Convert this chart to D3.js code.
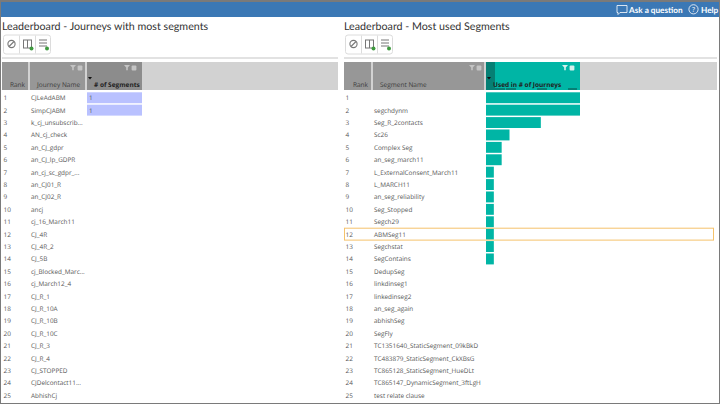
<!DOCTYPE html>
<html>
<head>
<meta charset="utf-8">
<style>
body { margin: 0; background: #fff; overflow: hidden; }
text { font-family: "Open Sans", sans-serif; text-rendering: geometricPrecision; }
text.wide { font-family: Lato, "Open Sans", sans-serif; }
</style>
<script src="https://cdn.jsdelivr.net/npm/d3@7"></script>
</head>
<body>
<div id="chart"></div>
<script>
// data
var ranks = d3.range(1, 26);
var journeyNames = ["CJLeAdABM", "SimpCJABM", "k_cj_unsubscrib...", "AN_cj_check", "an_CJ_gdpr", "an_CJ_lp_GDPR",
    "an_cj_sc_gdpr_...", "an_CJ01_R", "an_CJ02_R", "ancj", "cj_16_March11", "CJ_4R", "CJ_4R_2", "CJ_5B",
    "cj_Blocked_Marc...", "cj_March12_4", "CJ_R_1", "CJ_R_10A", "CJ_R_10B", "CJ_R_10C", "CJ_R_3", "CJ_R_4",
    "CJ_STOPPED", "CJDelcontact11...", "AbhishCj"];
var journeySegments = [1, 1];
var segmentNames = ["", "segchdynm", "Seg_R_2contacts", "Sc26", "Complex Seg", "an_seg_march11",
    "L_ExternalConsent_March11", "L_MARCH11", "an_seg_reliability", "Seg_Stopped", "Segch29", "ABMSeg11",
    "Segchstat", "SegContains", "DedupSeg", "linkdinseg1", "linkedinseg2", "an_seg_again", "abhishSeg", "SegFly",
    "TC1351640_StaticSegment_09kBkD", "TC483879_StaticSegment_CkXBsG", "TC865128_StaticSegment_HueDLt",
    "TC865147_DynamicSegment_3ftLgH", "test relate clause"];
var segmentJourneys = [12, 12, 7, 3, 2, 2, 1, 1, 1, 1, 1, 1, 1, 1];
var highlightedRank = 12;

var svgWidth = 720;
var svgHeight = 404;
var svg = d3.select("#chart").append("svg")
    .attr("width", svgWidth)
    .attr("height", svgHeight)
    .style("display", "block");

// row positions are shared by both tables
var rowScale = d3.scaleBand()
    .domain(ranks)
    .range([91.3, 401.8])
    .paddingInner(0.12)
    .paddingOuter(0.08);

//frame and top bar
svg.append("rect").attr("width", svgWidth).attr("height", svgHeight).attr("fill", "#fff");
svg.append("rect").attr("x", 0).attr("y", 2).attr("width", svgWidth).attr("height", 15).attr("fill", "#3b78b5");
svg.append("rect").attr("x", 0).attr("y", 0).attr("width", svgWidth).attr("height", 2).attr("fill", "#7a7a7a");
svg.append("rect").attr("x", 0).attr("y", 0).attr("width", 1).attr("height", svgHeight).attr("fill", "#7a7a7a");
svg.append("rect").attr("x", 719).attr("y", 0).attr("width", 1).attr("height", svgHeight).attr("fill", "#7a7a7a");
svg.append("rect").attr("x", 0).attr("y", 403).attr("width", svgWidth).attr("height", 1).attr("fill", "#7a7a7a");

// ask a question and help
var topBar = svg.append("g");
topBar.append("path")
    .attr("d", "M617 5.5h10v7h-7l-2 2v-2h-1z")
    .attr("fill", "none").attr("stroke", "#fff").attr("stroke-width", 0.8);
topBar.append("text").attr("class", "wide").attr("x", 629).attr("y", 12.5).attr("font-size", 8.2).attr("font-weight", 700).attr("fill", "#fff").text("Ask a question");
topBar.append("circle").attr("cx", 693.5).attr("cy", 9.3).attr("r", 4.6).attr("fill", "none").attr("stroke", "#fff").attr("stroke-width", 0.8);
topBar.append("text").attr("x", 693.5).attr("y", 12).attr("font-size", 7).attr("text-anchor", "middle").attr("fill", "#fff").text("?");
topBar.append("text").attr("class", "wide").attr("x", 701).attr("y", 12.5).attr("font-size", 8.2).attr("font-weight", 700).attr("fill", "#fff").text("Help");

function drawToolbar(g) {
    g.append("rect").attr("x", 0.5).attr("y", 0.5).attr("width", 47).attr("height", 19).attr("rx", 2.5)
        .attr("fill", "#fff").attr("stroke", "#dcdcdc");
    [16.5, 32.5].forEach(function (x) {
        g.append("line").attr("x1", x).attr("x2", x).attr("y1", 1).attr("y2", 19).attr("stroke", "#dcdcdc");
    });
    g.append("circle").attr("cx", 8.5).attr("cy", 9.5).attr("r", 3.6).attr("fill", "none").attr("stroke", "#777").attr("stroke-width", 1.1);
    g.append("line").attr("x1", 6).attr("y1", 12).attr("x2", 11).attr("y2", 7).attr("stroke", "#777").attr("stroke-width", 1.1);
    g.append("rect").attr("x", 20.5).attr("y", 5.5).attr("width", 8).attr("height", 8).attr("fill", "none").attr("stroke", "#777");
    g.append("line").attr("x1", 24.5).attr("x2", 24.5).attr("y1", 5.5).attr("y2", 13.5).attr("stroke", "#777");
    g.append("circle").attr("cx", 28.5).attr("cy", 14).attr("r", 2).attr("fill", "#3f9a3f");
    [5.5, 8.5, 11.5].forEach(function (y) {
        g.append("line").attr("x1", 36).attr("x2", 44).attr("y1", y).attr("y2", y).attr("stroke", "#777");
    });
    g.append("circle").attr("cx", 44).attr("cy", 14).attr("r", 2).attr("fill", "#3f9a3f");
}

function drawHeaderIcons(g, x, color) {
    // filter funnel and lock
    g.append("path").attr("d", "M" + (x - 12) + " 65h6l-2.2 2.6v2.6h-1.6v-2.6z").attr("fill", color);
    g.append("rect").attr("x", x - 4.4).attr("y", 65.5).attr("width", 4.8).attr("height", 5).attr("rx", 1).attr("fill", color);
}

// one leaderboard panel
function drawPanel(p) {
    var g = svg.append("g");
    g.append("text").attr("class", "wide").attr("x", p.x).attr("y", 30).attr("font-size", 10.7).attr("fill", "#333").text(p.title);
    drawToolbar(g.append("g").attr("transform", "translate(" + (p.x + 1) + ",34.5)"));
    g.append("rect").attr("x", p.x).attr("y", 57).attr("width", p.right - p.x).attr("height", 2).attr("fill", "#e2e2e2");

    // header cells
    g.append("rect").attr("x", p.x).attr("y", 62).attr("width", p.right - p.x).attr("height", 28).attr("fill", "#d2d2d2");
    g.append("rect").attr("x", p.x).attr("y", 62).attr("width", p.rankW).attr("height", 28).attr("fill", "#979797");
    g.append("rect").attr("x", p.nameX).attr("y", 62).attr("width", p.nameW).attr("height", 28).attr("fill", "#979797");
    g.append("rect").attr("x", p.barX).attr("y", 62).attr("width", p.barW).attr("height", 28).attr("fill", p.headFill);
    if (p.headDark) {
        g.append("rect").attr("x", p.barX).attr("y", 62).attr("width", 9).attr("height", 28).attr("fill", p.headDark);
        // small darker pieces along the bottom of the header
        p.headTicks.forEach(function (t) {
            g.append("rect").attr("x", t[0]).attr("y", 88).attr("width", t[1]).attr("height", 2).attr("fill", p.headDark);
        });
    }
    drawHeaderIcons(g, p.nameX + p.nameW - 3, "#c4c4c4");
    drawHeaderIcons(g, p.barX + p.barW - 6, p.iconFill);

    g.append("text").attr("x", p.x + p.rankW - 3).attr("y", 86.5).attr("text-anchor", "end")
        .attr("font-size", 6.5).attr("fill", "#3a3a3a").text("Rank");
    g.append("text").attr("x", p.nameLabelX).attr("y", 86.5)
        .attr("font-size", 6.5).attr("fill", "#3a3a3a").text(p.nameLabel);
    g.append("text").attr("x", p.barLabelX).attr("y", 86.5)
        .attr("font-size", 6.5).attr("font-weight", 700).attr("fill", "#222").text(p.barLabel);
    g.append("path").attr("d", d3.line()([[p.barX + 1, 77], [p.barX + 5, 77], [p.barX + 3, 79.5]])).attr("fill", "#111");

    // rows
    var x = d3.scaleLinear().domain([0, d3.max(p.values)]).range([0, p.barW]);
    g.selectAll(".bar").data(p.values).enter().append("rect")
        .attr("class", "bar")
        .attr("x", p.barX)
        .attr("y", function (d, i) { return rowScale(ranks[i]); })
        .attr("width", function (d) { return x(d); })
        .attr("height", rowScale.bandwidth())
        .attr("fill", p.barFill);

    g.selectAll(".rank").data(ranks).enter().append("text")
        .attr("class", "rank")
        .attr("x", p.x + 1.5)
        .attr("y", function (d) { return rowScale(d) + rowScale.bandwidth() / 2 + 2.5; })
        .attr("font-size", 6.4).attr("fill", "#555")
        .text(function (d) { return d; });
    g.selectAll(".name").data(p.names).enter().append("text")
        .attr("class", "name")
        .attr("x", p.nameTextX)
        .attr("y", function (d, i) { return rowScale(ranks[i]) + rowScale.bandwidth() / 2 + 2.5; })
        .attr("font-size", 6.4).attr("fill", "#555")
        .text(function (d) { return d; });
    if (p.showValues) {
        g.selectAll(".value").data(p.values).enter().append("text")
            .attr("class", "value")
            .attr("x", p.barX + 2)
            .attr("y", function (d, i) { return rowScale(ranks[i]) + rowScale.bandwidth() / 2 + 2.5; })
            .attr("font-size", 6.4).attr("fill", "#555")
            .text(function (d) { return d; });
    }
    if (p.highlight) {
        g.append("rect")
            .attr("x", p.x + 0.5)
            .attr("y", rowScale(p.highlight) - 0.5)
            .attr("width", p.highlightRight - p.x)
            .attr("height", rowScale.bandwidth() + 1)
            .attr("fill", "none").attr("stroke", "#f5c26b");
    }
}

drawPanel({
    x: 2, right: 338, title: "Leaderboard - Journeys with most segments",
    rankW: 26, nameX: 30, nameW: 55, barX: 87, barW: 55,
    headFill: "#8c8c8c", iconFill: "#c4c4c4",
    nameLabel: "Journey Name", nameLabelX: 37, barLabel: "# of Segments", barLabelX: 94,
    names: journeyNames, nameTextX: 31, values: journeySegments, barFill: "#b9c1ff", showValues: true
});
drawPanel({
    x: 344, right: 717, title: "Leaderboard - Most used Segments",
    rankW: 27, nameX: 373, nameW: 111, barX: 486, barW: 94,
    headFill: "#00b5a5", headDark: "#067f74", iconFill: "#d4f0ec",
    headTicks: [[495, 10], [506, 10], [537, 10], [568, 9]],
    nameLabel: "Segment Name", nameLabelX: 380, barLabel: "Used in # of Journeys", barLabelX: 493,
    names: segmentNames, nameTextX: 374, values: segmentJourneys, barFill: "#00b5a5",
    highlight: highlightedRank, highlightRight: 713
});
</script>
</body>
</html>
